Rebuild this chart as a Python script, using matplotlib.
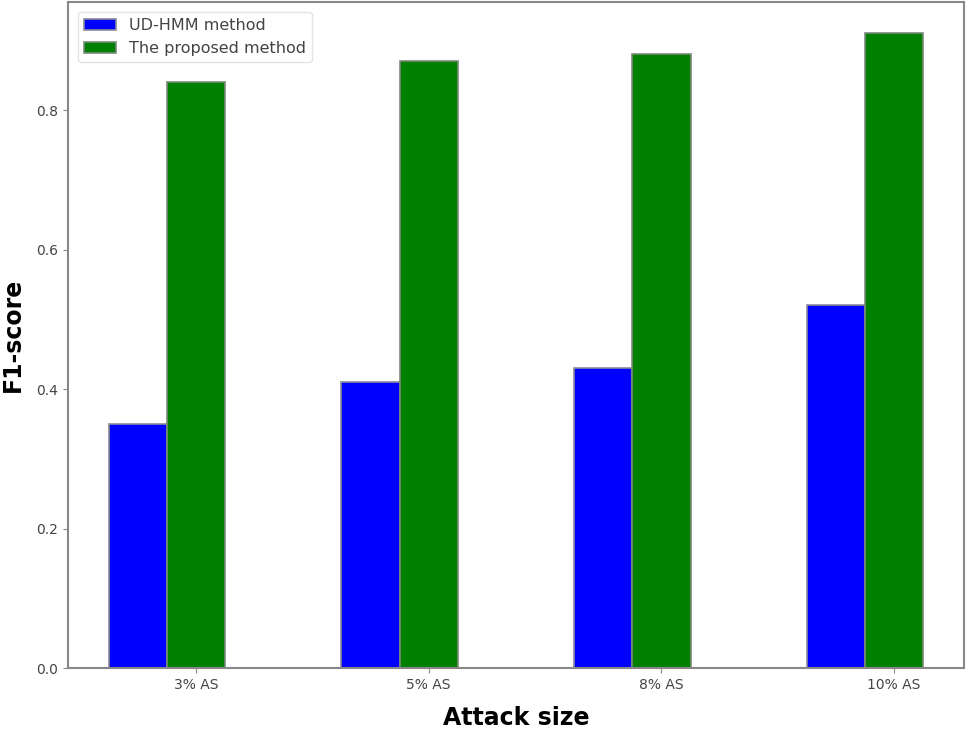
import matplotlib
matplotlib.use("Agg")
import matplotlib.pyplot as plt
import numpy as np

categories = ["3% AS", "5% AS", "8% AS", "10% AS"]
ud_hmm = [0.35, 0.41, 0.43, 0.52]
proposed = [0.84, 0.87, 0.88, 0.91]

fig = plt.figure(figsize=(9.7, 7.37), dpi=100)
ax = fig.add_axes([68/970, 1 - 668/737, (964-68)/970, (668-2)/737])

x = np.arange(len(categories))
w = 0.25
ax.bar(x, ud_hmm, width=w, color="blue", edgecolor="#8a8a9a", linewidth=1.2, label="UD-HMM method")
ax.bar(x + w, proposed, width=w, color="green", edgecolor="#7a8a7a", linewidth=1.2, label="The proposed method")

ax.set_xticks(x + w)
ax.set_xticklabels(categories, fontsize=10, color="#444444")
ax.set_ylim(0, 0.955)
ax.set_yticks([0.0, 0.2, 0.4, 0.6, 0.8])
ax.tick_params(axis="y", labelsize=10, labelcolor="#444444", color="#888888")
ax.tick_params(axis="x", color="#888888")
for s in ax.spines.values():
    s.set_color("#888888")
    s.set_linewidth(1.5)

ax.set_xlabel("Attack size", fontsize=17, fontweight="bold", labelpad=10)
ax.set_ylabel("F1-score", fontsize=17, fontweight="bold", labelpad=8)

leg = ax.legend(loc="upper left", fontsize=11.5, frameon=True, labelcolor="#444444",
                borderaxespad=0.6)
leg.get_frame().set_edgecolor("#dddddd")

fig.savefig("out.png", dpi=100)
